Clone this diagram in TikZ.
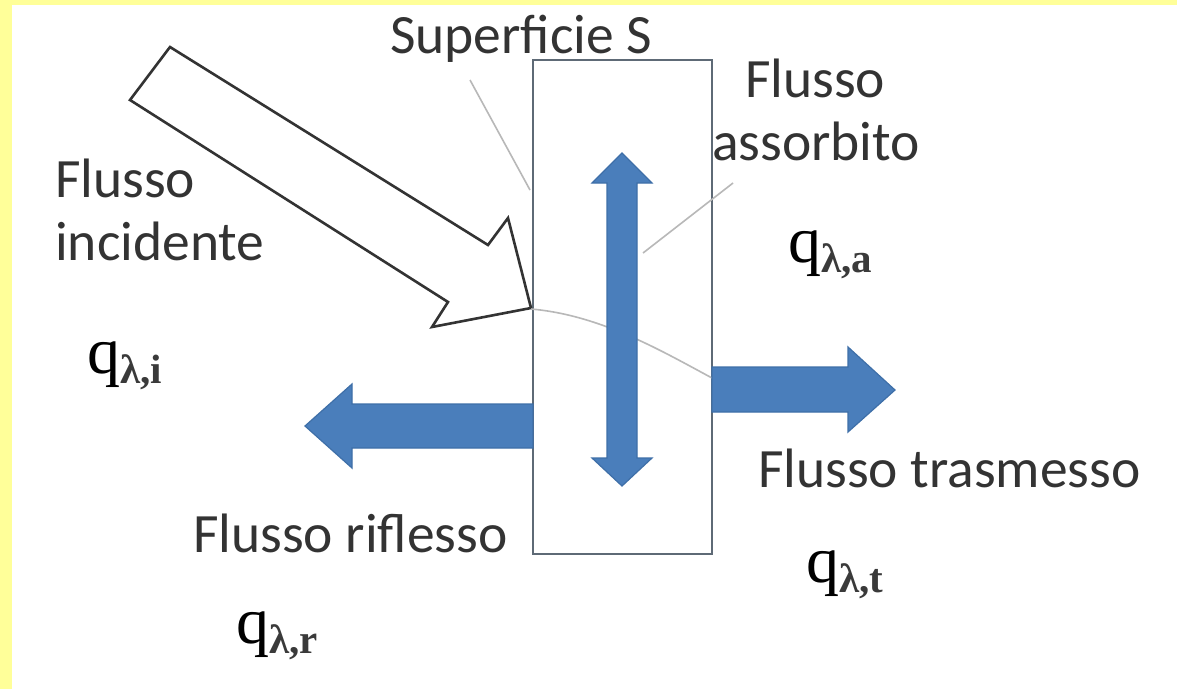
\documentclass[tikz,border=0pt]{standalone}
\usepackage{fontspec}
\setmainfont{Carlito}
\newfontfamily\qfont{Liberation Serif}
\definecolor{bgyellow}{HTML}{FFFF99}
\definecolor{txtgrey}{HTML}{333333}
\definecolor{subgrey}{HTML}{3A3A3A}
\definecolor{boxgrey}{HTML}{5E6A76}
\definecolor{arrblue}{HTML}{4A7EBB}
\definecolor{arredge}{HTML}{3E6FA8}
\definecolor{leadgrey}{HTML}{B8B8B8}
\newcommand{\qlab}[1]{{\qfont\fontsize{66}{66}\selectfont q}\raisebox{-10pt}{\qfont\bfseries\fontsize{41}{41}\selectfont\color{subgrey}λ,#1}}
\tikzset{
  lbl/.style={anchor=base west, inner sep=0pt, text=txtgrey, font=\fontsize{55.5}{63}\selectfont},
  qlabel/.style={anchor=base west, inner sep=0pt, text=black},
  bluearrow/.style={fill=arrblue, draw=arredge, line width=1.2pt, line join=miter},
  leader/.style={draw=leadgrey, line width=1.6pt},
}
\begin{document}
\begin{tikzpicture}[x=1pt,y=-1pt]
\useasboundingbox (0,0) rectangle (1177,689);
\fill[bgyellow] (0,0) rectangle (1177,689);
\fill[white] (12,5) rectangle (1177,689);

% surface box
\node[draw=boxgrey, fill=white, line width=2.2pt, minimum width=179pt, minimum height=494pt, inner sep=0pt] (box) at (622.5,307) {};

% incident arrow (outline)
\draw[line width=2.6pt, draw=black!80, fill=white, line join=miter]
  (170,47) -- (488,245) -- (508,218) -- (531,308) -- (432,327) -- (448,302) -- (130,100) -- cycle;
\coordinate (tip) at (531,309);

% leader lines
\coordinate (supS) at (470,80);
\coordinate (supEnd) at (530,190);
\draw[leader] (supS) -- (supEnd);
\coordinate (assS) at (733,183);
\coordinate (assEnd) at (643,253);
\draw[leader] (assS) -- (assEnd);
\coordinate (trEnd) at (712,378);
\draw[leader] (tip) .. controls (600,315) and (660,350) .. (trEnd);

% blue arrows
\draw[bluearrow] (622,153) -- (652,183) -- (637,183) -- (637,458) -- (652,458) -- (622,486) -- (592,458) -- (607,458) -- (607,183) -- (592,183) -- cycle;
\draw[bluearrow] (305,426) -- (352,384) -- (352,404) -- (533,404) -- (533,448) -- (352,448) -- (352,468) -- cycle;
\draw[bluearrow] (895,390) -- (848,347) -- (848,367) -- (712,367) -- (712,412) -- (848,412) -- (848,432) -- cycle;

% labels
\node[lbl] (sup) at (390,53) {Superficie S};
\node[lbl] (ass1) at (745,97) {Flusso};
\node[lbl] (ass2) at (712,160) {assorbito};
\node[lbl] (inc1) at (55,197) {Flusso};
\node[lbl] (inc2) at (55,260) {incidente};
\node[lbl] (rif) at (193,552) {Flusso riflesso};
\node[lbl] (tra) at (758,487) {Flusso trasmesso};

\node[qlabel] (qi) at (87,373) {\qlab{i}};
\node[qlabel] (qr) at (236,643) {\qlab{r}};
\node[qlabel] (qa) at (788,262) {\qlab{a}};
\node[qlabel] (qt) at (806,582) {\qlab{t}};
\end{tikzpicture}
\end{document}
